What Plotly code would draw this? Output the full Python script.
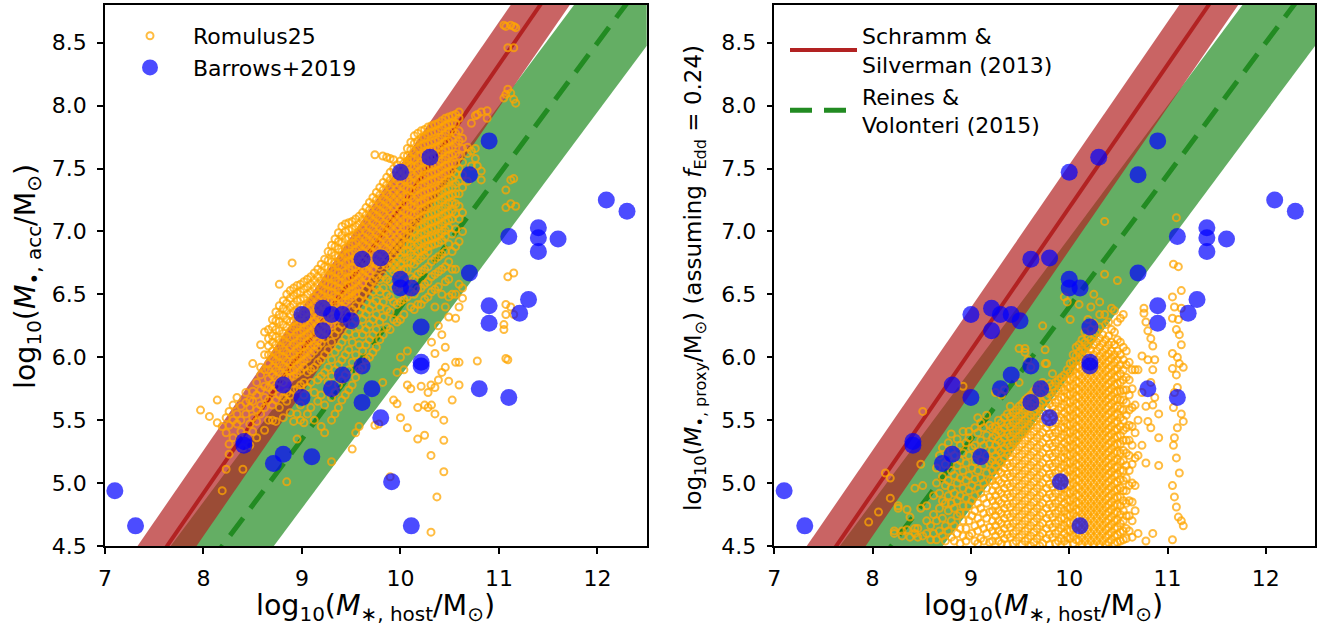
import numpy as np
import plotly.graph_objects as go

# ---------------- data ----------------
x_tickvals = [7, 8, 9, 10, 11, 12]
y_tickvals = [4.5, 5.0, 5.5, 6.0, 6.5, 7.0, 7.5, 8.0, 8.5]
x_range = [7.0, 12.5]
y_range = [4.5, 8.8]

# Schramm & Silverman (2013) relation
ss13_slope = 1.135
ss13_norm = 7.19      # log M_BH at log M* = ss13_pivot
ss13_pivot = 10.0
ss13_scatter = 0.34
# Reines & Volonteri (2015) relation
rv15_slope = 1.05
rv15_norm = 7.45
rv15_pivot = 11.0
rv15_scatter = 0.55

# Barrows+2019 (same in both panels)
barrows_x = [7.10, 7.31, 8.41, 8.41, 8.71, 8.81, 8.81, 9.00, 9.00, 9.10, 9.21, 9.21,
             9.30, 9.30, 9.41, 9.41, 9.50, 9.61, 9.61, 9.61, 9.71, 9.80, 9.80, 9.91,
             10.00, 10.00, 10.00, 10.11, 10.11, 10.21, 10.21, 10.21, 10.30, 10.70, 10.70,
             10.80, 10.90, 10.90, 10.90, 11.10, 11.10, 11.21, 11.30, 11.40, 11.40, 11.40,
             11.60, 12.09, 12.30]
barrows_y = [4.94, 4.66, 5.33, 5.30, 5.155, 5.23, 5.78, 6.34, 5.68, 5.21, 6.39, 6.21,
             6.34, 5.75, 6.34, 5.86, 6.29, 6.78, 5.93, 5.64, 5.75, 6.79, 5.52, 5.01,
             7.47, 6.62, 6.55, 6.55, 4.66, 6.24, 5.96, 5.93, 7.59, 7.45, 6.67,
             5.75, 7.72, 6.41, 6.27, 6.96, 5.68, 6.35, 6.46, 7.03, 6.95, 6.84,
             6.94, 7.25, 7.16]

# Romulus25, left panel: columns of (log M*, [log M_acc ...])
romulus_acc_cols = [
    (7.97, [5.58]), (8.06, [5.53]), (8.14, [5.66, 5.48]), (8.19, [4.94, 5.45]),
    (8.23, [5.11, 5.52, 5.40]), (8.26, [5.23, 5.31, 5.46, 5.57]), (8.30, [5.36, 5.50, 5.62]),
    (8.34, [5.47, 5.55, 5.68]), (8.38, [5.61, 5.50, 5.41]), (8.40, [5.11, 5.28]),
    (8.43, [5.55, 5.64, 5.72, 5.38]), (8.47, [5.30, 5.47, 5.60, 5.66]),
    (8.50, [5.41, 5.52, 5.65, 5.73, 5.95]), (8.54, [5.36, 5.49, 5.58, 5.70, 5.80]),
    (8.58, [5.55, 5.62, 5.74, 5.86, 5.92, 6.10]), (8.62, [5.42, 5.60, 5.68, 5.77, 5.90, 6.02, 6.20]),
    (8.66, [6.22, 6.15, 6.09, 6.02, 5.95, 5.90, 5.83, 5.76, 5.66, 5.50]),
    (8.70, [6.30, 6.24, 6.17, 6.12, 6.05, 5.99, 5.92, 5.86, 5.79, 5.73, 5.62, 5.50]),
    (8.735, [6.36, 6.29, 6.22, 6.16, 6.10, 6.03, 5.97, 5.90, 5.84, 5.77, 5.66, 5.49]),
    (8.77, [6.58, 6.41, 6.34, 6.28, 6.21, 6.14, 6.08, 6.01, 5.95, 5.88, 5.81, 5.70, 5.60]),
    (8.81, [6.45, 6.39, 6.33, 6.26, 6.19, 6.13, 6.06, 6.00, 5.93, 5.86, 5.80, 5.68, 5.52]),
    (8.845, [6.50, 6.43, 6.37, 6.30, 6.24, 6.17, 6.11, 6.04, 5.97, 5.91, 5.84, 5.72, 5.65, 5.01]),
    (8.88, [6.53, 6.47, 6.40, 6.34, 6.28, 6.21, 6.15, 6.08, 6.02, 5.95, 5.89, 5.84, 5.70, 5.56]),
    (8.90, [6.75]),
    (8.915, [6.55, 6.49, 6.42, 6.36, 6.29, 6.23, 6.16, 6.10, 6.03, 5.97, 5.90, 5.85, 5.74, 5.49]),
    (8.95, [6.57, 6.51, 6.45, 6.38, 6.32, 6.25, 6.19, 6.12, 6.06, 5.99, 5.93, 5.87, 5.75, 5.55, 5.35]),
    (8.985, [6.58, 6.52, 6.46, 6.40, 6.33, 6.27, 6.20, 6.14, 6.08, 6.01, 5.95, 5.89, 5.78, 5.62, 5.50]),
    (9.02, [6.60, 6.54, 6.47, 6.41, 6.35, 6.28, 6.22, 6.16, 6.09, 6.03, 5.97, 5.92, 5.80, 5.70, 5.48]),
    (9.055, [6.62, 6.56, 6.50, 6.43, 6.37, 6.31, 6.24, 6.18, 6.12, 6.05, 5.99, 5.88, 5.76, 5.55]),
    (9.09, [6.64, 6.58, 6.52, 6.45, 6.39, 6.33, 6.26, 6.20, 6.14, 6.08, 6.02, 5.90, 5.80, 5.60]),
    (9.125, [6.67, 6.61, 6.55, 6.48, 6.42, 6.36, 6.29, 6.23, 6.17, 6.10, 6.05, 5.92, 5.72, 5.50]),
    (9.16, [6.70, 6.64, 6.58, 6.51, 6.45, 6.39, 6.32, 6.26, 6.20, 6.13, 6.08, 5.96, 5.82, 5.65]),
    (9.195, [6.74, 6.68, 6.61, 6.55, 6.49, 6.42, 6.36, 6.30, 6.23, 6.17, 6.11, 5.98, 5.85, 5.70, 5.45]),
    (9.23, [6.78, 6.72, 6.65, 6.59, 6.53, 6.46, 6.40, 6.34, 6.27, 6.21, 6.15, 6.02, 5.88, 5.62, 5.40]),
    (9.265, [6.84, 6.77, 6.71, 6.64, 6.58, 6.52, 6.45, 6.39, 6.33, 6.26, 6.20, 6.06, 5.92, 5.80]),
    (9.30, [6.89, 6.83, 6.76, 6.70, 6.64, 6.57, 6.51, 6.45, 6.38, 6.32, 6.25, 6.12, 5.98, 5.85, 5.68, 5.50, 5.17]),
    (9.335, [6.94, 6.88, 6.81, 6.75, 6.68, 6.62, 6.56, 6.49, 6.43, 6.37, 6.30, 6.18, 6.04, 5.90, 5.72, 5.55]),
    (9.37, [6.99, 6.92, 6.86, 6.80, 6.73, 6.67, 6.60, 6.54, 6.48, 6.41, 6.35, 6.22, 6.08, 5.94, 5.78, 5.60]),
    (9.405, [7.04, 6.97, 6.91, 6.84, 6.78, 6.72, 6.65, 6.59, 6.52, 6.46, 6.40, 6.26, 6.12, 5.98, 5.82, 5.66]),
    (9.44, [7.06, 7.00, 6.94, 6.87, 6.81, 6.75, 6.68, 6.62, 6.56, 6.49, 6.44, 6.30, 6.16, 6.02, 5.86, 5.70]),
    (9.475, [7.07, 7.01, 6.95, 6.88, 6.82, 6.76, 6.69, 6.63, 6.57, 6.50, 6.46, 6.34, 6.20, 6.06, 5.90, 5.74]),
    (9.51, [7.08, 7.02, 6.96, 6.90, 6.83, 6.77, 6.71, 6.64, 6.58, 6.52, 6.48, 6.38, 6.26, 6.12, 5.96, 5.78, 5.27]),
    (9.545, [7.10, 7.04, 6.98, 6.91, 6.85, 6.79, 6.72, 6.66, 6.60, 6.54, 6.50, 6.41, 6.30, 6.18, 6.02, 5.84, 5.40]),
    (9.58, [7.12, 7.06, 7.00, 6.93, 6.87, 6.81, 6.74, 6.68, 6.62, 6.56, 6.46, 6.36, 6.24, 6.10, 5.90, 5.45]),
    (9.615, [7.15, 7.09, 7.03, 6.96, 6.90, 6.84, 6.77, 6.71, 6.65, 6.59, 6.50, 6.40, 6.30, 6.18, 6.05, 5.92]),
    (9.65, [7.19, 7.13, 7.07, 7.00, 6.94, 6.88, 6.81, 6.75, 6.69, 6.63, 6.54, 6.44, 6.34, 6.22, 6.10, 5.98]),
    (9.685, [7.23, 7.17, 7.11, 7.04, 6.98, 6.92, 6.85, 6.79, 6.73, 6.67, 6.58, 6.48, 6.38, 6.26, 6.14, 6.00]),
    (9.72, [7.27, 7.21, 7.14, 7.08, 7.02, 6.95, 6.89, 6.83, 6.76, 6.70, 6.61, 6.52, 6.42, 6.30, 6.18, 6.04]),
    (9.74, [7.61, 5.46]),
    (9.755, [7.31, 7.25, 7.18, 7.12, 7.06, 6.99, 6.93, 6.87, 6.80, 6.74, 6.64, 6.55, 6.45, 6.34, 6.22, 6.08]),
    (9.78, [5.47]),
    (9.79, [7.35, 7.29, 7.22, 7.16, 7.10, 7.03, 6.97, 6.91, 6.84, 6.78, 6.72, 6.62, 6.52, 6.40, 6.28, 6.14]),
    (9.82, [7.60, 5.80]),
    (9.825, [7.39, 7.33, 7.26, 7.20, 7.14, 7.07, 7.01, 6.95, 6.88, 6.82, 6.75, 6.65, 6.55, 6.44, 6.32, 6.18]),
    (9.86, [7.59, 7.43, 7.37, 7.30, 7.24, 7.18, 7.11, 7.05, 6.99, 6.92, 6.86, 6.79, 6.73, 6.62, 6.50, 6.38, 6.24]),
    (9.895, [7.58, 7.47, 7.41, 7.35, 7.28, 7.22, 7.16, 7.09, 7.03, 6.97, 6.90, 6.84, 6.77, 6.71, 6.60, 6.48, 6.36, 6.22, 5.05]),
    (9.93, [7.57, 7.50, 7.44, 7.38, 7.31, 7.25, 7.19, 7.12, 7.06, 7.00, 6.93, 6.87, 6.81, 6.74, 6.68, 6.56, 6.44, 6.30, 5.66]),
    (9.965, [7.53, 7.47, 7.41, 7.34, 7.28, 7.22, 7.15, 7.09, 7.03, 6.96, 6.90, 6.84, 6.77, 6.71, 6.66, 6.54, 6.42, 6.28, 5.63, 5.88]),
    (10.00, [7.56, 7.50, 7.44, 7.37, 7.31, 7.25, 7.18, 7.12, 7.06, 6.99, 6.93, 6.87, 6.80, 6.74, 6.68, 6.56, 6.44, 6.30, 6.00, 5.52]),
    (10.035, [7.60, 7.54, 7.47, 7.41, 7.35, 7.28, 7.22, 7.16, 7.09, 7.03, 6.97, 6.90, 6.84, 6.78, 6.70, 6.58, 6.46, 6.34, 5.90]),
    (10.07, [7.56, 7.66, 7.60, 7.53, 7.47, 7.41, 7.34, 7.28, 7.22, 7.15, 7.09, 7.03, 6.96, 6.90, 6.84, 6.76, 6.70, 6.60, 6.48, 6.05, 5.78, 5.44]),
    (10.105, [7.71, 7.65, 7.58, 7.52, 7.46, 7.39, 7.33, 7.27, 7.20, 7.14, 7.08, 7.01, 6.95, 6.89, 6.82, 6.75, 6.64, 6.52, 6.40, 5.75]),
    (10.14, [7.76, 7.70, 7.63, 7.57, 7.51, 7.44, 7.38, 7.32, 7.25, 7.19, 7.13, 7.06, 7.00, 6.94, 6.87, 6.80, 6.74, 6.62, 6.50, 6.38]),
    (10.175, [7.78, 7.72, 7.66, 7.60, 7.53, 7.47, 7.41, 7.34, 7.28, 7.22, 7.15, 7.09, 7.03, 6.96, 6.90, 6.84, 6.77, 6.66, 6.54, 6.42, 5.60, 5.35]),
    (10.21, [7.80, 7.74, 7.68, 7.61, 7.55, 7.49, 7.42, 7.36, 7.30, 7.23, 7.17, 7.11, 7.04, 6.98, 6.92, 6.85, 6.79, 6.68, 6.55, 6.42, 5.77]),
    (10.245, [7.81, 7.75, 7.69, 7.62, 7.56, 7.50, 7.43, 7.37, 7.31, 7.24, 7.18, 7.12, 7.05, 6.99, 6.93, 6.86, 6.81, 6.70, 6.58, 6.46, 5.62, 5.38]),
    (10.28, [7.83, 7.77, 7.70, 7.64, 7.58, 7.51, 7.45, 7.39, 7.32, 7.26, 7.20, 7.13, 7.07, 7.01, 6.94, 6.88, 6.84, 6.72, 6.60, 6.48, 5.72, 5.60]),
    (10.31, [4.61, 5.22, 5.78]),
    (10.315, [7.84, 7.78, 7.71, 7.65, 7.59, 7.52, 7.46, 7.40, 7.33, 7.27, 7.21, 7.14, 7.08, 7.02, 6.95, 6.89, 6.76, 6.64, 6.52, 6.12, 5.62]),
    (10.35, [7.85, 7.79, 7.72, 7.66, 7.60, 7.53, 7.47, 7.41, 7.34, 7.28, 7.22, 7.15, 7.09, 7.03, 6.96, 6.90, 6.78, 6.66, 6.54, 6.40, 6.03, 5.76, 5.55]),
    (10.37, [4.89]),
    (10.385, [7.86, 7.80, 7.73, 7.67, 7.61, 7.54, 7.48, 7.42, 7.35, 7.29, 7.23, 7.16, 7.10, 7.04, 6.97, 6.91, 6.80, 6.68, 6.56, 6.25, 5.82]),
    (10.42, [7.88, 7.82, 7.75, 7.69, 7.63, 7.56, 7.50, 7.44, 7.37, 7.31, 7.25, 7.18, 7.12, 7.06, 6.99, 6.93, 6.82, 6.70, 6.50, 6.18, 5.88]),
    (10.44, [5.09, 5.34, 5.50]),
    (10.455, [7.90, 7.84, 7.77, 7.71, 7.65, 7.58, 7.52, 7.46, 7.39, 7.33, 7.27, 7.20, 7.14, 7.08, 7.01, 6.96, 6.84, 6.72, 6.60, 6.40, 6.08, 5.92]),
    (10.49, [7.91, 7.85, 7.79, 7.72, 7.66, 7.60, 7.53, 7.47, 7.41, 7.34, 7.28, 7.22, 7.15, 7.09, 7.03, 6.90, 6.76, 6.62, 6.48, 6.32, 5.81]),
    (10.525, [7.92, 7.86, 7.80, 7.73, 7.67, 7.61, 7.54, 7.48, 7.42, 7.35, 7.29, 7.23, 7.16, 7.10, 6.98, 6.84, 6.70, 6.50, 5.66]),
    (10.56, [7.93, 7.86, 7.78, 7.70, 7.62, 7.54, 7.46, 7.38, 7.30, 7.22, 7.14, 7.02, 6.88, 6.70, 6.50, 6.31, 5.96]),
    (10.595, [7.95, 7.90, 7.80, 7.72, 7.60, 7.50, 7.40, 7.30, 7.20, 7.10, 6.92, 6.58, 6.40, 5.96, 5.78]),
    (10.63, [7.74, 7.66, 7.55, 7.45, 7.35, 7.15, 7.00, 6.55, 6.47]),
    (10.68, [7.40, 7.62, 7.67]), (10.72, [7.64, 7.86, 7.52]), (10.76, [7.58, 7.66, 7.92]),
    (10.78, [5.97, 7.52, 7.93]), (10.82, [7.48, 7.41, 7.95]), (10.88, [7.96, 7.90]),
    (11.05, [6.22, 6.26, 8.06, 8.64]), (11.07, [5.99, 6.34, 6.42, 7.19, 7.33, 8.63, 8.09]),
    (11.09, [5.98, 6.64, 8.13, 8.46]), (11.12, [6.40, 7.41, 7.22, 8.10, 8.64]),
    (11.15, [6.34, 6.67, 7.42, 8.05, 8.46, 8.63]), (11.17, [7.20, 8.02, 8.62]),
]

# Romulus25, right panel: columns of (log M*, [log M_proxy ...])
romulus_proxy_cols = [
    (7.96, [4.69]), (8.06, [4.77]), (8.13, [5.08]), (8.18, [4.88, 5.04]), (8.22, [4.62, 4.60]),
    (8.26, [4.82, 4.80]), (8.30, [4.62, 4.58]), (8.35, [4.79, 4.63]), (8.38, [4.73, 4.57]),
    (8.43, [4.96, 4.64, 4.60]), (8.46, [4.64, 4.57]), (8.49, [5.15, 4.80]),
    (8.51, [5.57, 4.98, 4.58]), (8.55, [4.82, 4.70, 4.60]), (8.59, [4.66, 4.55]),
    (8.62, [4.90, 4.75, 4.60]), (8.65, [5.00, 5.12, 4.70, 4.55]), (8.68, [5.22, 4.92, 4.80, 4.62]),
    (8.71, [5.28, 5.05, 4.86, 4.72, 4.58]), (8.74, [5.15, 4.98, 4.84, 4.66, 4.54]),
    (8.77, [5.32, 5.20, 5.02, 4.90, 4.78, 4.62]), (8.80, [5.39, 5.26, 5.10, 4.96, 4.84, 4.70, 4.57]),
    (8.83, [5.22, 5.06, 4.92, 4.80, 4.66, 4.54]), (8.86, [5.35, 5.14, 5.00, 4.86, 4.74, 4.60]),
    (8.89, [5.30, 5.18, 5.04, 4.90, 4.76, 4.64, 4.52]),
    (8.92, [5.77, 5.41, 5.24, 5.10, 4.96, 4.82, 4.70, 4.58]),
    (8.95, [5.32, 5.16, 5.02, 4.88, 4.76, 4.64, 4.54]),
    (8.98, [5.41, 5.36, 5.22, 5.06, 4.94, 4.82, 4.70, 4.58]),
    (9.01, [5.28, 5.12, 4.98, 4.86, 4.74, 4.60]),
    (9.04, [5.44, 5.30, 5.17, 5.03, 4.90, 4.78, 4.66, 4.54]),
    (9.07, [5.52, 5.40, 5.24, 5.10, 4.96, 4.84, 4.72, 4.62, 4.52]),
    (9.10, [5.48, 5.34, 5.18, 5.04, 4.92, 4.80, 4.68, 4.56]),
    (9.13, [5.44, 5.30, 5.14, 5.00, 4.88, 4.76, 4.64, 4.54]),
    (9.16, [5.54, 5.38, 5.22, 5.08, 4.96, 4.84, 4.72, 4.60]),
    (9.19, [5.46, 5.31, 5.16, 5.02, 4.89, 4.77, 4.65, 4.53]),
    (9.22, [5.44, 5.36, 5.26, 5.18, 5.10, 5.02, 4.94, 4.86, 4.78, 4.70, 4.62, 4.54]),
    (9.25, [5.72, 5.45, 5.38, 5.30, 5.22, 5.14, 5.06, 4.98, 4.90, 4.82, 4.74, 4.66, 4.58]),
    (9.28, [5.50, 5.42, 5.34, 5.26, 5.18, 5.10, 5.02, 4.94, 4.86, 4.78, 4.70, 4.62, 4.54]),
    (9.31, [5.70, 5.48, 5.40, 5.32, 5.24, 5.16, 5.08, 5.00, 4.92, 4.84, 4.76, 4.68, 4.60, 4.52]),
    (9.34, [5.74, 5.52, 5.44, 5.36, 5.28, 5.20, 5.12, 5.04, 4.96, 4.88, 4.80, 4.72, 4.64, 4.56]),
    (9.37, [5.55, 5.47, 5.39, 5.31, 5.23, 5.15, 5.07, 4.99, 4.91, 4.83, 4.75, 4.67, 4.59, 4.51]),
    (9.40, [5.61, 5.53, 5.45, 5.37, 5.29, 5.21, 5.13, 5.05, 4.97, 4.89, 4.81, 4.73, 4.65, 4.57]),
    (9.43, [5.56, 5.48, 5.40, 5.32, 5.24, 5.16, 5.08, 5.00, 4.92, 4.84, 4.76, 4.68, 4.60, 4.52]),
    (9.46, [5.58, 5.50, 5.42, 5.34, 5.26, 5.18, 5.10, 5.02, 4.94, 4.86, 4.78, 4.70, 4.62, 4.54]),
    (9.49, [6.07, 5.80, 5.61, 5.53, 5.45, 5.37, 5.29, 5.21, 5.13, 5.05, 4.97, 4.89, 4.81, 4.73, 4.65, 4.57]),
    (9.52, [5.63, 5.55, 5.47, 5.39, 5.31, 5.23, 5.15, 5.07, 4.99, 4.91, 4.83, 4.75, 4.67, 4.59, 4.51]),
    (9.55, [6.07, 6.04, 5.66, 5.58, 5.50, 5.42, 5.34, 5.26, 5.18, 5.10, 5.02, 4.94, 4.86, 4.78, 4.70, 4.62, 4.54]),
    (9.58, [5.98, 5.68, 5.60, 5.52, 5.44, 5.36, 5.28, 5.20, 5.12, 5.04, 4.96, 4.88, 4.80, 4.72, 4.64, 4.56]),
    (9.61, [5.92, 5.70, 5.62, 5.54, 5.46, 5.38, 5.30, 5.22, 5.14, 5.06, 4.98, 4.90, 4.82, 4.74, 4.66, 4.58, 4.50]),
    (9.64, [5.73, 5.65, 5.57, 5.49, 5.41, 5.33, 5.25, 5.17, 5.09, 5.01, 4.93, 4.85, 4.77, 4.69, 4.61, 4.53]),
    (9.67, [5.76, 5.68, 5.60, 5.52, 5.44, 5.36, 5.28, 5.20, 5.12, 5.04, 4.96, 4.88, 4.80, 4.72, 4.64, 4.56]),
    (9.70, [5.78, 5.70, 5.62, 5.54, 5.46, 5.38, 5.30, 5.22, 5.14, 5.06, 4.98, 4.90, 4.82, 4.74, 4.66, 4.58, 4.50]),
    (9.73, [6.25, 5.80, 5.72, 5.64, 5.56, 5.48, 5.40, 5.32, 5.24, 5.16, 5.08, 5.00, 4.92, 4.84, 4.76, 4.68, 4.60, 4.52]),
    (9.755, [6.06, 5.95]),
    (9.77, [5.95, 5.76, 5.68, 5.60, 5.52, 5.44, 5.36, 5.28, 5.20, 5.12, 5.04, 4.96, 4.88, 4.80, 4.72, 4.64, 4.56]),
    (9.80, [5.79, 5.71, 5.63, 5.55, 5.47, 5.39, 5.31, 5.23, 5.15, 5.07, 4.99, 4.91, 4.83, 4.75, 4.67, 4.59, 4.51]),
    (9.83, [5.87, 5.77, 5.69, 5.61, 5.53, 5.45, 5.37, 5.29, 5.21, 5.13, 5.05, 4.97, 4.89, 4.81, 4.73, 4.65, 4.57]),
    (9.86, [5.80, 5.72, 5.64, 5.56, 5.48, 5.40, 5.32, 5.24, 5.16, 5.08, 5.00, 4.92, 4.84, 4.76, 4.68, 4.60, 4.52]),
    (9.89, [5.82, 5.74, 5.66, 5.58, 5.50, 5.42, 5.34, 5.26, 5.18, 5.10, 5.02, 4.94, 4.86, 4.78, 4.70, 4.62, 4.54]),
    (9.92, [5.84, 5.76, 5.68, 5.60, 5.52, 5.44, 5.36, 5.28, 5.20, 5.12, 5.04, 4.96, 4.88, 4.80, 4.72, 4.64, 4.56]),
    (9.95, [6.48, 5.86, 5.80, 5.74, 5.68, 5.62, 5.56, 5.50, 5.44, 5.38, 5.32, 5.26, 5.20, 5.14, 5.08, 5.02, 4.96, 4.90, 4.84, 4.78, 4.72, 4.66, 4.60, 4.54]),
    (9.98, [6.44, 5.90, 5.83, 5.77, 5.71, 5.65, 5.59, 5.53, 5.47, 5.41, 5.35, 5.29, 5.23, 5.17, 5.11, 5.05, 4.99, 4.93, 4.87, 4.81, 4.75, 4.69, 4.63, 4.57, 4.51]),
    (10.01, [6.30, 5.95, 5.88, 5.82, 5.76, 5.70, 5.64, 5.58, 5.52, 5.46, 5.40, 5.34, 5.28, 5.22, 5.16, 5.10, 5.04, 4.98, 4.92, 4.86, 4.80, 4.74, 4.68, 4.62, 4.56]),
    (10.04, [6.02, 5.96, 5.90, 5.84, 5.78, 5.72, 5.66, 5.60, 5.54, 5.48, 5.42, 5.36, 5.30, 5.24, 5.18, 5.12, 5.06, 5.00, 4.94, 4.88, 4.82, 4.76, 4.70, 4.64, 4.58, 4.52]),
    (10.07, [6.08, 6.01, 5.93, 5.87, 5.81, 5.75, 5.69, 5.63, 5.57, 5.51, 5.45, 5.39, 5.33, 5.27, 5.21, 5.15, 5.09, 5.03, 4.97, 4.91, 4.85, 4.79, 4.73, 4.67, 4.61, 4.55]),
    (10.10, [6.42, 6.10, 6.04, 5.98, 5.92, 5.86, 5.80, 5.74, 5.68, 5.62, 5.56, 5.50, 5.44, 5.38, 5.32, 5.26, 5.20, 5.14, 5.08, 5.02, 4.96, 4.90, 4.84, 4.78, 4.72, 4.66, 4.60, 4.54]),
    (10.13, [6.14, 6.07, 6.01, 5.95, 5.89, 5.83, 5.77, 5.71, 5.65, 5.59, 5.53, 5.47, 5.41, 5.35, 5.29, 5.23, 5.17, 5.11, 5.05, 4.99, 4.93, 4.87, 4.81, 4.75, 4.69, 4.63, 4.57, 4.51]),
    (10.16, [6.20, 6.12, 6.05, 5.98, 5.92, 5.86, 5.80, 5.74, 5.68, 5.62, 5.56, 5.50, 5.44, 5.38, 5.32, 5.26, 5.20, 5.14, 5.08, 5.02, 4.96, 4.90, 4.84, 4.78, 4.72, 4.66, 4.60, 4.54]),
    (10.19, [6.30, 6.16, 6.09, 6.02, 5.95, 5.89, 5.83, 5.77, 5.71, 5.65, 5.59, 5.53, 5.47, 5.41, 5.35, 5.29, 5.23, 5.17, 5.11, 5.05, 4.99, 4.93, 4.87, 4.81, 4.75, 4.69, 4.63, 4.57, 4.51]),
    (10.22, [6.40, 6.22, 6.14, 6.06, 5.99, 5.92, 5.86, 5.80, 5.74, 5.68, 5.62, 5.56, 5.50, 5.44, 5.38, 5.32, 5.26, 5.20, 5.14, 5.08, 5.02, 4.96, 4.90, 4.84, 4.78, 4.72, 4.66, 4.60, 4.54]),
    (10.25, [6.50, 6.27, 6.18, 6.10, 6.02, 5.95, 5.89, 5.83, 5.77, 5.71, 5.65, 5.59, 5.53, 5.47, 5.41, 5.35, 5.29, 5.23, 5.17, 5.11, 5.05, 4.99, 4.93, 4.87, 4.81, 4.75, 4.69, 4.63, 4.57, 4.51]),
    (10.28, [6.20, 6.12, 6.05, 5.98, 5.92, 5.86, 5.80, 5.74, 5.68, 5.62, 5.56, 5.50, 5.44, 5.38, 5.32, 5.26, 5.20, 5.14, 5.08, 5.02, 4.96, 4.90, 4.84, 4.78, 4.72, 4.66, 4.60, 4.54]),
    (10.31, [6.44, 6.34, 6.24, 6.15, 6.08, 6.01, 5.95, 5.89, 5.83, 5.77, 5.71, 5.65, 5.59, 5.53, 5.47, 5.41, 5.35, 5.29, 5.23, 5.17, 5.11, 5.05, 4.99, 4.93, 4.87, 4.81, 4.75, 4.69, 4.63, 4.57, 4.51]),
    (10.34, [6.18, 6.11, 6.04, 5.98, 5.92, 5.86, 5.80, 5.74, 5.68, 5.62, 5.56, 5.50, 5.44, 5.38, 5.32, 5.26, 5.20, 5.14, 5.08, 5.02, 4.96, 4.90, 4.84, 4.78, 4.72, 4.66, 4.60, 4.54]),
    (10.36, [7.08, 6.66, 6.34]),
    (10.37, [6.26, 6.14, 6.07, 6.01, 5.95, 5.89, 5.83, 5.77, 5.71, 5.65, 5.59, 5.53, 5.47, 5.41, 5.35, 5.29, 5.23, 5.17, 5.11, 5.05, 4.99, 4.93, 4.87, 4.81, 4.75, 4.69, 4.63, 4.57, 4.51]),
    (10.40, [6.28, 6.17, 6.10, 6.03, 5.97, 5.91, 5.85, 5.79, 5.73, 5.67, 5.61, 5.55, 5.49, 5.43, 5.37, 5.31, 5.25, 5.19, 5.13, 5.07, 5.01, 4.95, 4.89, 4.83, 4.77, 4.71, 4.65, 4.59, 4.53]),
    (10.43, [6.39, 6.22, 6.12, 6.05, 5.99, 5.93, 5.87, 5.81, 5.75, 5.69, 5.63, 5.57, 5.51, 5.45, 5.39, 5.33, 5.27, 5.21, 5.15, 5.09, 5.03, 4.97, 4.91, 4.85, 4.79, 4.73, 4.67, 4.61, 4.55]),
    (10.46, [6.37, 6.20, 6.10, 6.02, 5.96, 5.90, 5.84, 5.78, 5.72, 5.66, 5.60, 5.54, 5.48, 5.42, 5.36, 5.30, 5.24, 5.18, 5.12, 5.06, 5.00, 4.94, 4.88, 4.82, 4.76, 4.70, 4.64, 4.58, 4.52]),
    (10.49, [6.61, 6.28, 6.14, 6.05, 5.98, 5.91, 5.85, 5.79, 5.73, 5.67, 5.61, 5.55, 5.49, 5.43, 5.37, 5.31, 5.25, 5.19, 5.13, 5.07, 5.01, 4.95, 4.89, 4.83, 4.77, 4.71, 4.65, 4.59, 4.53]),
    (10.52, [6.31, 6.12, 6.02, 5.94, 5.87, 5.80, 5.73, 5.66, 5.59, 5.52, 5.45, 5.38, 5.31, 5.24, 5.17, 5.10, 5.03, 4.96, 4.89, 4.82, 4.75, 4.68, 4.61, 4.54]),
    (10.55, [6.34, 6.08, 5.98, 5.90, 5.82, 5.74, 5.66, 5.58, 5.50, 5.42, 5.34, 5.26, 5.18, 5.10, 5.02, 4.94, 4.86, 4.78, 4.70, 4.62, 4.55]),
    (10.58, [6.05, 5.94, 5.84, 5.74, 5.64, 5.54, 5.44, 5.34, 5.24, 5.14, 5.04, 4.94, 4.84, 4.74, 4.64, 4.56]),
    (10.61, [5.96, 5.82, 5.70, 5.58, 5.46, 5.34, 5.22, 5.10, 4.98, 4.86, 4.74, 4.62]),
    (10.64, [5.90, 5.75, 5.60, 5.45, 5.30, 5.15, 5.00, 4.85, 4.70, 4.57]),
    (10.67, [5.90, 5.62, 5.40, 5.20, 4.98, 4.78]), (10.70, [5.90, 5.50, 5.22, 4.60]),
    (10.74, [6.01, 5.72, 5.30]), (10.76, [6.39, 6.35]), (10.78, [5.61, 5.16, 4.54, 6.28]),
    (10.80, [6.21, 5.49, 5.98]), (10.83, [6.15, 5.80, 5.44]), (10.85, [6.09, 5.90, 5.62, 4.60]),
    (10.87, [5.68, 5.98]), (10.91, [5.55, 5.36, 5.14]),
    (11.05, [6.48, 6.31, 6.03, 5.91, 4.98, 4.55]), (11.06, [6.74, 5.60, 5.30]),
    (11.07, [5.36, 4.89, 5.72, 6.40]), (11.09, [7.11, 5.20, 4.81, 6.22, 5.86]),
    (11.10, [5.76, 6.00, 5.44]), (11.11, [6.72, 4.73, 6.30]), (11.12, [6.18, 5.08, 5.95]),
    (11.14, [6.53, 6.39, 6.10, 4.70, 5.55]), (11.16, [5.49, 4.66, 5.92]),
]

# ---------------- styling ----------------
FONT = "DejaVu Sans"
W, H = 1317, 625
ORANGE = "rgba(255,165,0,0.75)"
BLUE = "rgba(0,0,255,0.7)"
RED = "rgb(178,34,34)"
RED_BAND = "rgba(178,34,34,0.7)"
GREEN = "rgb(34,139,34)"
GREEN_BAND = "rgba(34,139,34,0.7)"


def flatten(cols):
    xs, ys = [], []
    for x, yl in cols:
        for y in yl:
            xs.append(x)
            ys.append(y)
    return xs, ys


acc_x, acc_y = flatten(romulus_acc_cols)
prx_x, prx_y = flatten(romulus_proxy_cols)

grid = np.linspace(6.0, 13.5, 31)


def relation(slope, norm, pivot):
    return norm + slope * (grid - pivot)


ss_mid = relation(ss13_slope, ss13_norm, ss13_pivot)
rv_mid = relation(rv15_slope, rv15_norm, rv15_pivot)

fig = go.Figure()

for i, (xa, ya) in enumerate([("x", "y"), ("x2", "y2")]):
    right = i == 1
    fig.add_trace(go.Scatter(
        x=np.concatenate([grid, grid[::-1]]),
        y=np.concatenate([rv_mid + rv15_scatter, (rv_mid - rv15_scatter)[::-1]]),
        fill="toself", fillcolor=GREEN_BAND, line=dict(width=0), mode="lines",
        hoverinfo="skip", showlegend=False, xaxis=xa, yaxis=ya))
    fig.add_trace(go.Scatter(
        x=np.concatenate([grid, grid[::-1]]),
        y=np.concatenate([ss_mid + ss13_scatter, (ss_mid - ss13_scatter)[::-1]]),
        fill="toself", fillcolor=RED_BAND, line=dict(width=0), mode="lines",
        hoverinfo="skip", showlegend=False, xaxis=xa, yaxis=ya))
    fig.add_trace(go.Scatter(
        x=grid, y=ss_mid, mode="lines", line=dict(color=RED, width=4),
        name="Schramm &<br>Silverman (2013)", showlegend=right, legend="legend2",
        xaxis=xa, yaxis=ya))
    fig.add_trace(go.Scatter(
        x=grid, y=rv_mid, mode="lines", line=dict(color=GREEN, width=5, dash="22px,12px"),
        name="Reines &<br>Volonteri (2015)", showlegend=right, legend="legend2",
        xaxis=xa, yaxis=ya))
    fig.add_trace(go.Scatter(
        x=prx_x if right else acc_x, y=prx_y if right else acc_y, mode="markers",
        marker=dict(symbol="circle-open", size=7, color=ORANGE, line=dict(width=2, color=ORANGE)),
        name="Romulus25", showlegend=not right, legend="legend", xaxis=xa, yaxis=ya))
    fig.add_trace(go.Scatter(
        x=barrows_x, y=barrows_y, mode="markers",
        marker=dict(symbol="circle", size=17, color=BLUE, line=dict(width=0)),
        name="Barrows+2019", showlegend=not right, legend="legend", xaxis=xa, yaxis=ya))

axis_common = dict(showgrid=False, zeroline=False, showline=True, linewidth=1.5,
                   linecolor="black", mirror=True, ticks="outside", ticklen=6,
                   tickwidth=1.5, tickcolor="black", automargin=False,
                   ticklabelstandoff=6,
                   tickfont=dict(family=FONT, size=22, color="black"))
ydom = [1 - 546 / H, 1 - 5 / H]
fig.update_layout(
    width=W, height=H, margin=dict(l=0, r=0, t=0, b=0, autoexpand=False),
    paper_bgcolor="white", plot_bgcolor="white",
    font=dict(family=FONT, size=22, color="black"),
    xaxis=dict(domain=[105 / W, 646.7 / W], range=x_range, tickvals=x_tickvals,
               anchor="y", **axis_common),
    yaxis=dict(domain=ydom, range=y_range, tickvals=y_tickvals, tickformat=".1f",
               anchor="x", **axis_common),
    xaxis2=dict(domain=[774.3 / W, 1315 / W], range=x_range, tickvals=x_tickvals,
                anchor="y2", **axis_common),
    yaxis2=dict(domain=ydom, range=y_range, tickvals=y_tickvals, tickformat=".1f",
                anchor="x2", **axis_common),
    legend=dict(x=107 / W, y=1 - 15 / H, xanchor="left", yanchor="top",
                bgcolor="rgba(0,0,0,0)", font=dict(family=FONT, size=22),
                itemsizing="trace", itemwidth=76),
    legend2=dict(x=785 / W, y=1 - 15 / H, xanchor="left", yanchor="top",
                 bgcolor="rgba(0,0,0,0)", font=dict(family=FONT, size=22),
                 itemwidth=67, tracegroupgap=8),
    showlegend=True,
)

title_font = dict(family=FONT, size=28.5, color="black")
fig.add_annotation(text="log<sub>10</sub>(<i>M</i><sub>•, acc</sub>/M<sub>⊙</sub>)",
                   xref="paper", yref="paper", x=27 / W, y=1 - 277 / H,
                   textangle=-90, showarrow=False, font=title_font,
                   xanchor="center", yanchor="middle")
fig.add_annotation(text="log<sub>10</sub>(<i>M</i><sub>•, proxy</sub>/M<sub>⊙</sub>) (assuming <i>f</i><sub>Edd</sub> = 0.24)",
                   xref="paper", yref="paper", x=695 / W, y=1 - 278 / H,
                   textangle=-90, showarrow=False, font=dict(family=FONT, size=23, color="black"),
                   xanchor="center", yanchor="middle")
for cx in (375, 1043):
    fig.add_annotation(text="log<sub>10</sub>(<i>M</i><sub>∗, host</sub>/M<sub>⊙</sub>)",
                       xref="paper", yref="paper", x=cx / W, y=1 - 607 / H,
                       showarrow=False, font=title_font, xanchor="center", yanchor="middle")

fig.write_html("out.html", config={"displayModeBar": False},
               post_script="document.body.style.margin='0';")
